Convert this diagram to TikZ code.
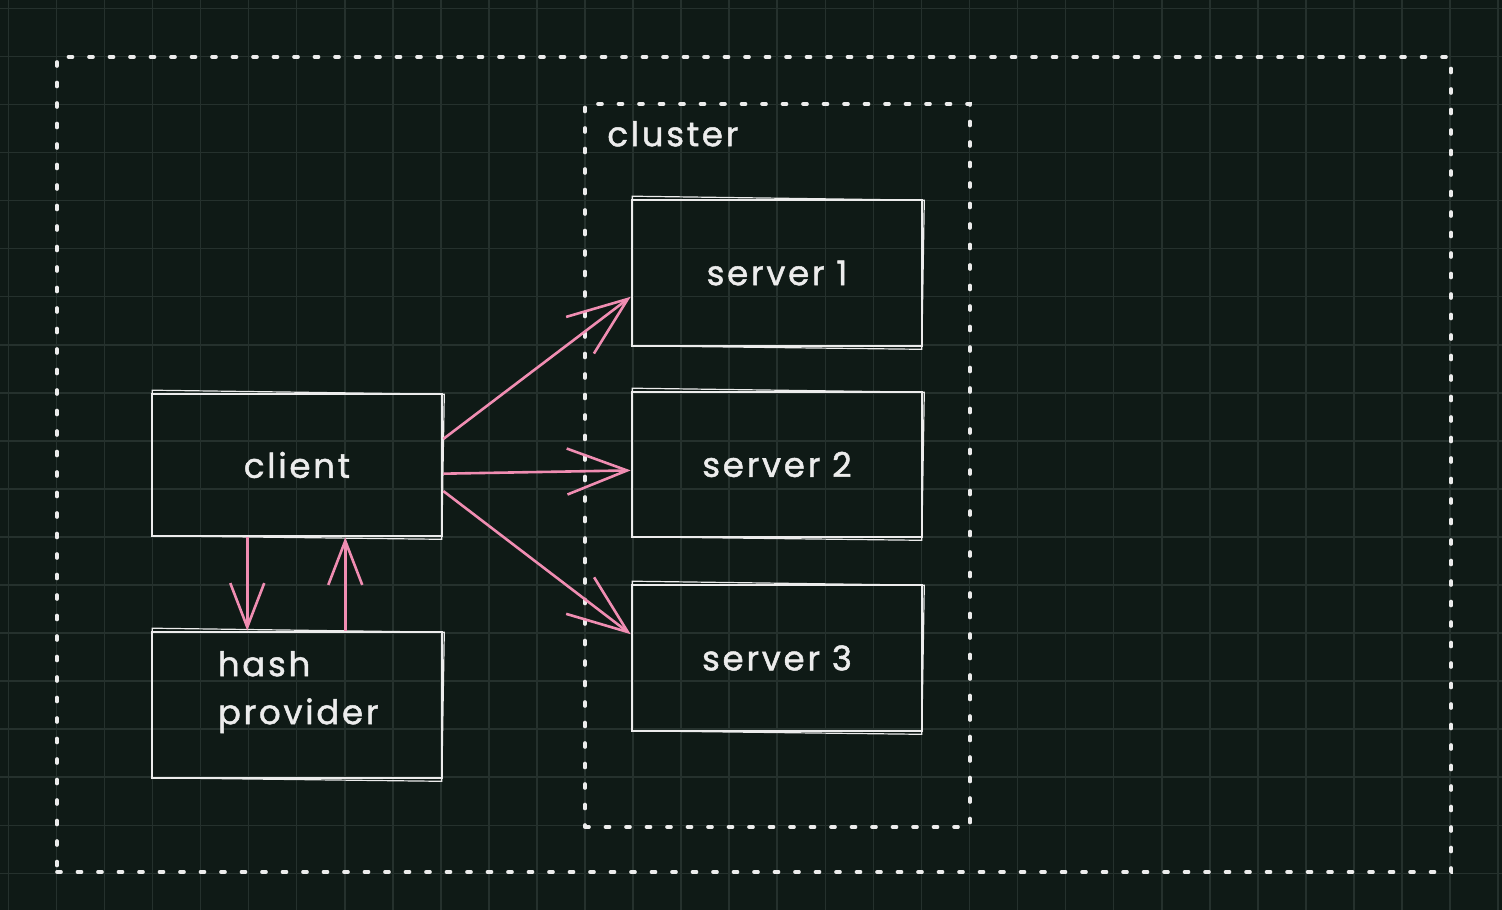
\documentclass[tikz,border=0pt]{standalone}
\usepackage{fontspec}
\setmainfont{Poppins}[LetterSpace=8.0, FakeBold=1.4]
\usetikzlibrary{arrows.meta,calc}
\definecolor{bg}{HTML}{0F1A16}
\definecolor{gridc}{HTML}{25312D}
\definecolor{ink}{HTML}{ECECEC}
\definecolor{pinkc}{HTML}{F08DB2}
\tikzset{
  box/.style={draw=ink, line width=2.6pt, minimum width=290pt, inner sep=0pt,
    font=\fontsize{34}{48}\selectfont, text=ink},
  sketch/.style={draw=ink, line width=1.2pt},
  frame/.style={draw=ink, line width=3.6pt, dash pattern=on 4pt off 16.5pt, line cap=round,
    inner sep=0pt},
  label/.style={text=ink, font=\fontsize{34}{48}\selectfont, inner sep=0pt},
  conn/.style={draw=pinkc, line width=2.6pt,
    -{Straight Barb[length=60pt,width=46pt,line width=2.6pt]}},
  shortconn/.style={draw=pinkc, line width=2.6pt,
    -{Straight Barb[length=44pt,width=34pt,line width=2.6pt]}}
}
\begin{document}
\begin{tikzpicture}[x=1pt,y=-1pt]
\fill[bg] (0,0) rectangle (1502,910);
\useasboundingbox (0,0) rectangle (1502,910);
\begin{scope}
\clip (0,0) rectangle (1502,910);
\foreach \k in {0,...,31} \draw[gridc, line width=1.6pt] ({8.3+48.06*\k},0) -- ({8.3+48.06*\k},910);
\foreach \k in {0,...,18} \draw[gridc, line width=1.6pt] (0,{8.3+48.06*\k}) -- (1502,{8.3+48.06*\k});
\end{scope}

% frames
\node[frame, minimum width=1394pt, minimum height=815pt] (outer) at (754,464.5) {};
\node[frame, minimum width=385pt, minimum height=723pt] (cluster) at (777.5,465.5) {};
\node[label, anchor=base west] (clusterlabel) at ($(cluster.north west)+(24,44)$) {cluster};

% boxes
\node[box, minimum height=142pt] (client) at (297,465) {client};
\node[box, minimum height=146pt] (hash) at (297,705) {};
\node[label, anchor=west, align=left] (hashlabel) at ($(hash.west)+(67,-13)$) {hash\\provider};
\node[box, minimum height=146pt] (s1) at (777,273) {server 1};
\node[box, minimum height=145pt] (s2) at (777,464.5) {server 2};
\node[box, minimum height=146pt] (s3) at (777,658) {server 3};

\foreach \n in {client,hash,s1,s2,s3}
  \draw[sketch] ($(\n.north west)+(1.5,-2.5)$) -- ($(\n.north east)+(1,1.5)$)
    -- ($(\n.south east)+(-1.5,2)$) -- ($(\n.south west)+(1.5,-1.5)$) -- cycle;

% connectors
\draw[conn] ($(client.north east)!0.32!(client.south east)$) -- ($(s1.north west)!0.66!(s1.south west)$);
\draw[conn] ($(client.north east)!0.56!(client.south east)$) -- ($(s2.north west)!0.54!(s2.south west)$);
\draw[conn] ($(client.north east)!0.68!(client.south east)$) -- ($(s3.north west)!0.34!(s3.south west)$);
\draw[shortconn] ($(client.south west)!0.33!(client.south east)$) -- ($(hash.north west)!0.33!(hash.north east)$);
\draw[shortconn] ($(hash.north west)!0.665!(hash.north east)$) -- ($(client.south west)!0.665!(client.south east)$);
\end{tikzpicture}
\end{document}
